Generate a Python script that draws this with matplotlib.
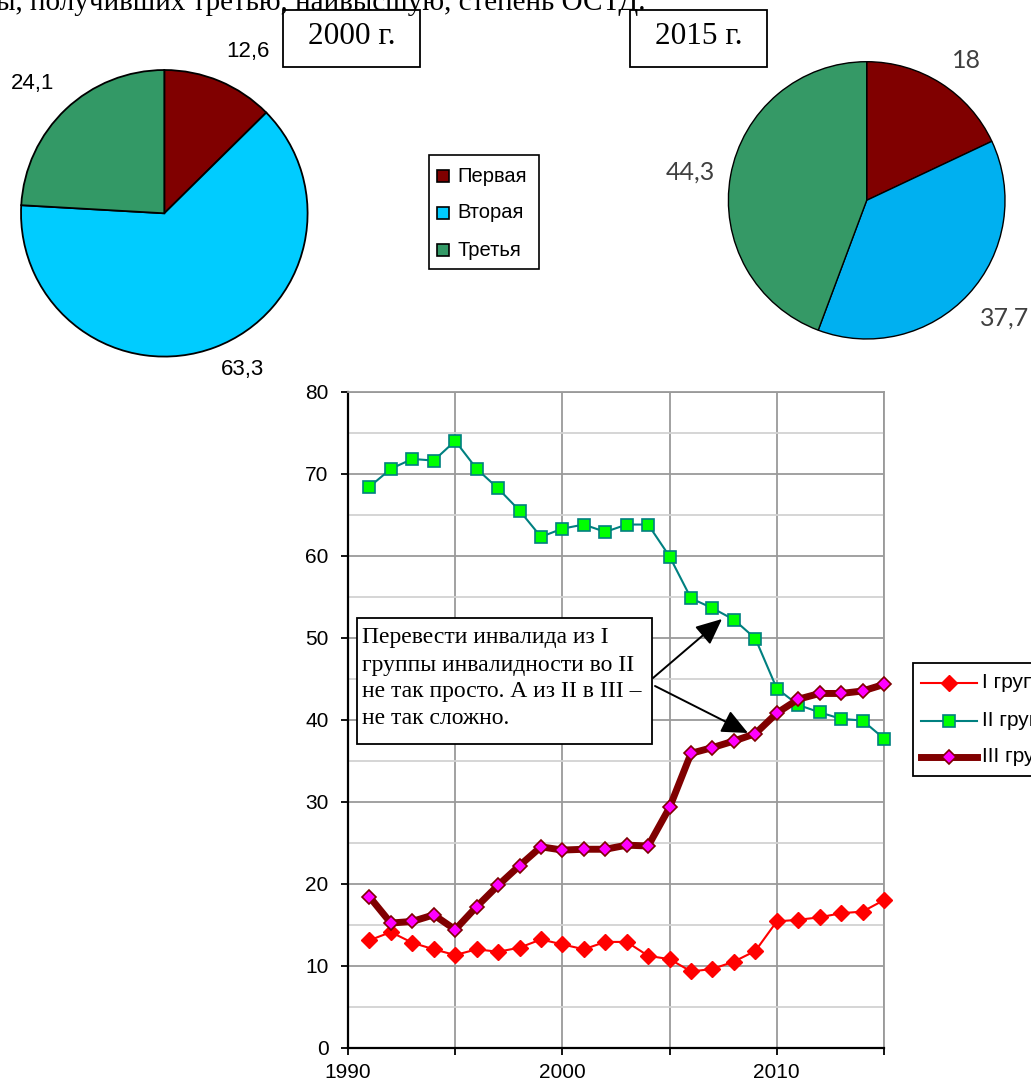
import matplotlib
matplotlib.use('Agg')
import matplotlib.pyplot as plt
from matplotlib.patches import Rectangle, FancyArrowPatch
from matplotlib.lines import Line2D

W, H = 1031, 1082

# ---------------- data ----------------
years = list(range(1991, 2016))
group1 = [13.1, 14.1, 12.8, 12.0, 11.3, 12.0, 11.7, 12.2, 13.2, 12.6, 12.0, 12.9, 12.9,
          11.2, 10.8, 9.3, 9.6, 10.5, 11.8, 15.4, 15.6, 15.9, 16.4, 16.6, 18.0]
group2 = [68.4, 70.6, 71.8, 71.6, 74.0, 70.6, 68.2, 65.5, 62.3, 63.3, 63.8, 62.9, 63.8,
          63.8, 59.9, 54.8, 53.6, 52.2, 49.9, 43.8, 41.8, 40.9, 40.1, 39.9, 37.7]
group3 = [18.4, 15.2, 15.4, 16.2, 14.4, 17.2, 19.8, 22.2, 24.5, 24.1, 24.2, 24.2, 24.7,
          24.6, 29.3, 35.9, 36.6, 37.4, 38.3, 40.8, 42.5, 43.2, 43.2, 43.5, 44.3]
series_labels = ['I группа', 'II группа', 'III группа']

pie_labels = ['Первая', 'Вторая', 'Третья']
pie2000 = [12.6, 63.3, 24.1]
pie2015 = [18, 37.7, 44.3]
pie2000_text = ['12,6', '63,3', '24,1']
pie2015_text = ['18', '37,7', '44,3']

xticks = [1990, 1995, 2000, 2005, 2010, 2015]
xtick_labels = ['1990', '', '2000', '', '2010', '']
yticks = [0, 10, 20, 30, 40, 50, 60, 70, 80]

top_text = 'ы, получивших третью, наивысшую, степень ОСТД.'
note_lines = ['Перевести инвалида из I', 'группы инвалидности во II',
              'не так просто. А из II в III –', 'не так сложно.']

# ---------------- helpers ----------------
SANS = 'Liberation Sans'
SERIF = 'Liberation Serif'


def P(x, y):
    return (x / W, 1 - y / H)


def rect_axes(fig, x0, y0, x1, y1):
    return fig.add_axes([x0 / W, 1 - y1 / H, (x1 - x0) / W, (y1 - y0) / H])


fig = plt.figure(figsize=(W / 100, H / 100), dpi=100)
fig.patch.set_facecolor('white')

# top (clipped) text line
fig.text(-4 / W, 1 - 10 / H, top_text, fontsize=21, family=SERIF, va='baseline', ha='left')

# ---------------- pie 2000 ----------------
c2000 = ['#800000', '#00CCFF', '#339966']
cx, cy, r = 164.3, 213.3, 144
axp1 = rect_axes(fig, cx - r, cy - r, cx + r, cy + r)
axp1.pie(pie2000, colors=c2000, startangle=90, counterclock=False,
         wedgeprops=dict(edgecolor='black', linewidth=1.3))
axp1.set_xlim(-1.005, 1.005)
axp1.set_ylim(-1.005, 1.005)
axp1.set_aspect('auto')
axp1.axis('off')

for t, (x, y) in zip(pie2000_text, [(248, 52), (243, 370), (33, 84)]):
    fig.text(*P(x, y), t, fontsize=16, family=SANS, ha='center', va='center')

# ---------------- pie 2015 ----------------
c2015 = ['#800000', '#00B0F0', '#359966']
cx2, cy2, r2 = 866.7, 200, 139
ybot = 330
axp2 = rect_axes(fig, cx2 - r2, cy2 - r2, cx2 + r2, ybot)
axp2.pie(pie2015, colors=c2015, startangle=90, counterclock=False,
         wedgeprops=dict(edgecolor='black', linewidth=1.0))
axp2.set_aspect('auto')
axp2.set_xlim(-1.005, 1.005)
axp2.set_ylim(-(ybot - cy2) / r2, 1.005)
axp2.axis('off')

for t, (x, y) in zip(pie2015_text, [(966, 60), (1005, 318), (690, 172)]):
    fig.text(*P(x, y), t, fontsize=18, family='Lato', color='#404040', ha='center', va='center')

# ---------------- year boxes ----------------
for label, (x0, x1) in [('2000 г.', (283, 420)), ('2015 г.', (630, 767))]:
    fig.add_artist(Rectangle(P(x0, 67), (x1 - x0) / W, 57 / H, transform=fig.transFigure,
                             facecolor='white', edgecolor='black', linewidth=1.3))
    fig.text(*P((x0 + x1) / 2, 37), label, fontsize=22.5, family=SERIF, ha='center', va='center')

# ---------------- middle legend ----------------
fig.add_artist(Rectangle(P(429, 269), 110 / W, 114 / H, transform=fig.transFigure,
                         facecolor='white', edgecolor='black', linewidth=1.2))
for lab, col, y in zip(pie_labels, c2000, [176, 213, 250]):
    fig.add_artist(Rectangle(P(437, y + 6), 12 / W, 12 / H, transform=fig.transFigure,
                             facecolor=col, edgecolor='black', linewidth=1.2))
    fig.text(*P(457, y), lab, fontsize=14.5, family=SANS, ha='left', va='center')

# ---------------- line chart ----------------
ax = rect_axes(fig, 348, 391.7, 884, 1047.7)
ax.set_xlim(1990, 2015)
ax.set_ylim(0, 80)
ax.set_xticks(xticks)
ax.set_xticklabels(xtick_labels)
ax.set_yticks(yticks)
ax.set_yticks([5, 15, 25, 35, 45, 55, 65, 75], minor=True)
ax.tick_params(axis='both', which='major', labelsize=15, direction='out', length=5,
               width=1.3, color='black', pad=6)
ax.tick_params(axis='y', which='major', pad=9)
ax.tick_params(which='minor', length=0)
for lab in ax.get_xticklabels() + ax.get_yticklabels():
    lab.set_family(SANS)
ax.grid(True, which='major', color='#9a9a9a', linewidth=1.3)
ax.grid(True, which='minor', axis='y', color='#d2d2d2', linewidth=1.3)
ax.set_axisbelow(True)
for s in ['top', 'right']:
    ax.spines[s].set_color('#9a9a9a')
    ax.spines[s].set_linewidth(1.3)
for s in ['left', 'bottom']:
    ax.spines[s].set_color('black')
    ax.spines[s].set_linewidth(1.6)

st1 = dict(color='#FF0000', linewidth=1.5, marker='D', markersize=8.5,
           markerfacecolor='#FF0000', markeredgecolor='#FF0000')
st2 = dict(color='#008080', linewidth=1.5, marker='s', markersize=8.5,
           markerfacecolor='#00FF00', markeredgecolor='#008080', markeredgewidth=1.2)
st3 = dict(color='#800000', linewidth=5, marker='D', markersize=7.5,
           markerfacecolor='#FF00FF', markeredgecolor='#800000', markeredgewidth=1.2)
ax.plot(years, group1, clip_on=False, zorder=3, **st1)
ax.plot(years, group2, clip_on=False, zorder=3, **st2)
ax.plot(years, group3, clip_on=False, zorder=4, **st3)

# ---------------- annotation box ----------------
fig.add_artist(Rectangle(P(357, 744), (652 - 357) / W, (744 - 618) / H, transform=fig.transFigure,
                         facecolor='white', edgecolor='black', linewidth=1.3, zorder=5))
for line, y in zip(note_lines, [638, 665, 692, 718]):
    fig.text(*P(362, y), line, fontsize=17, family=SERIF, ha='left', va='center', zorder=6)

for (x0, y0), (x1, y1) in [((653, 678), (722, 619)), ((655, 686), (748, 733))]:
    fig.add_artist(FancyArrowPatch(
        P(x0, y0), P(x1, y1), transform=fig.transFigure, arrowstyle='-|>,head_length=10,head_width=4.5',
        color='black', linewidth=1.4, shrinkA=0, shrinkB=0, zorder=6, mutation_scale=1.6))

# ---------------- right legend (clipped at figure edge) ----------------
fig.add_artist(Rectangle(P(913, 776), 200 / W, 113 / H, transform=fig.transFigure,
                         facecolor='white', edgecolor='black', linewidth=1.3))
for st, lab, y in zip([st1, st2, st3], series_labels, [683, 721, 757]):
    x0, x1 = 921, 977
    fig.add_artist(Line2D([x0 / W, x1 / W], [1 - y / H, 1 - y / H], transform=fig.transFigure,
                          color=st['color'], linewidth=st['linewidth']))
    fig.add_artist(Line2D([(x0 + x1) / 2 / W], [1 - y / H], transform=fig.transFigure,
                          linestyle='none', marker=st['marker'], markersize=st['markersize'],
                          markerfacecolor=st['markerfacecolor'], markeredgecolor=st['markeredgecolor'],
                          markeredgewidth=st.get('markeredgewidth', 1)))
    fig.text(*P(982, y), lab, fontsize=15, family=SANS, ha='left', va='center')

fig.savefig('out.png', dpi=100)
